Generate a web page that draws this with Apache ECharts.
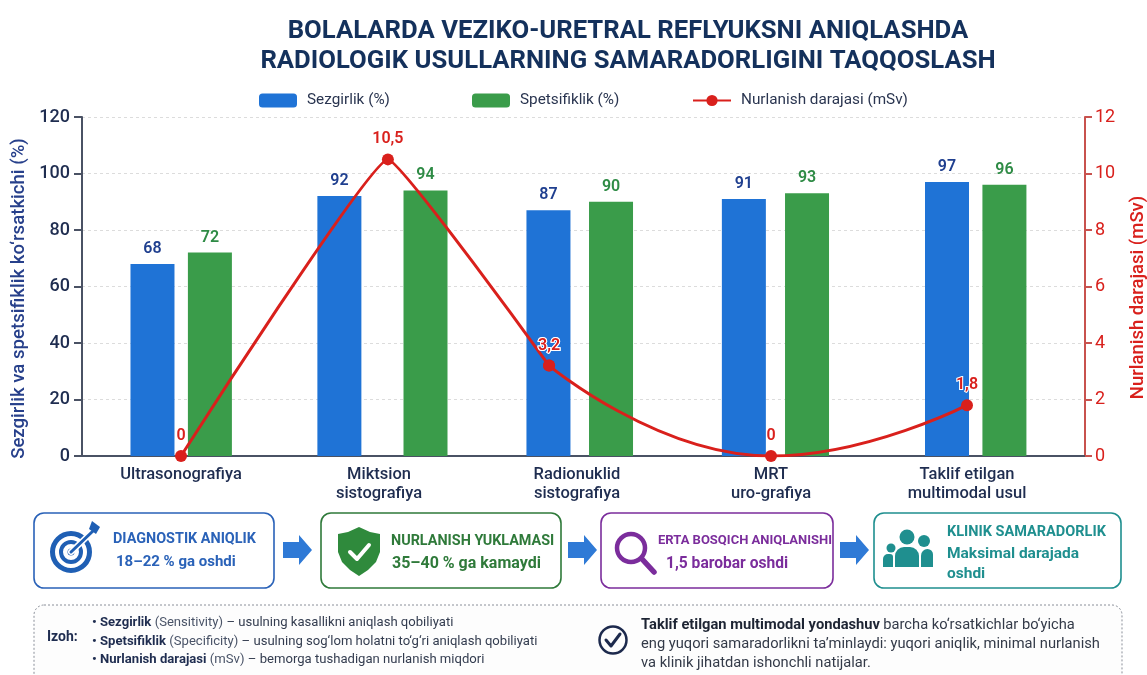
<!DOCTYPE html>
<html>
<head>
<meta charset="utf-8">
<title>VUR radiologik usullar</title>
<script src="https://cdn.jsdelivr.net/npm/echarts@6/dist/echarts.min.js"></script>
<style>
  html, body { margin: 0; padding: 0; background: #fff; overflow: hidden; }
  #chart { width: 1147px; height: 675px; }
</style>
</head>
<body>
<div id="chart"></div>
<script>
const categories = [
  "Ultrasonografiya",
  "Miktsion\nsistografiya",
  "Radionuklid\nsistografiya",
  "MRT\nuro-grafiya",
  "Taklif etilgan\nmultimodal usul",
];
const sensitivity = [68, 92, 87, 91, 97];
const specificity = [72, 94, 90, 93, 96];
const radiation = [0, 10.5, 3.2, 0, 1.8];

// the bars and line points are not evenly placed in the picture, so x is in category units
const sensitivitySlots = [-0.144, 0.8, 1.856, 2.843, 3.869];
const specificitySlots = [0.146, 1.235, 2.172, 3.162, 4.159];
const radiationSlots = [0, 1.045, 1.859, 2.98, 3.97];
const labelSlots = [0, 1, 2, 2.98, 3.97];

const FONT = "Roboto";
const NAVY = "#1f2d50";
const BLUE = "#1f73d6";
const GREEN = "#3a9c4a";
const RED = "#d9201c";

function pairs(xs, ys) {
  return xs.map(function (x, i) { return [x, ys[i]]; });
}

function txt(x, y, text, size, color, weight) {
  return {
    type: "text", x: x, y: y,
    style: { text: text, font: (weight || "normal") + " " + size + "px " + FONT, fill: color, verticalAlign: "middle" },
  };
}

function box(x, y, w, h, color) {
  return {
    type: "rect",
    shape: { x: x, y: y, width: w, height: h, r: 10 },
    style: { fill: "#fff", stroke: color, lineWidth: 1.6 },
  };
}

function arrow(x) {
  return poly([[x, 542], [x + 16, 542], [x + 16, 535], [x + 29, 550], [x + 16, 565], [x + 16, 558], [x, 558]], "#2f7ad6");
}

function circle(cx, cy, r, fill, stroke, lw) {
  return {
    type: "circle",
    shape: { cx: cx, cy: cy, r: r },
    style: { fill: fill || "none", stroke: stroke || "none", lineWidth: lw || 0 },
  };
}

function poly(points, fill, smooth) {
  return { type: "polygon", shape: { points: points, smooth: smooth || 0 }, style: { fill: fill } };
}

function stroke(points, color, lw) {
  return {
    type: "polyline",
    shape: { points: points },
    style: { fill: "none", stroke: color, lineWidth: lw, lineCap: "round", lineJoin: "round" },
  };
}

function roundBody(x, y, w, h, r, color) {
  return { type: "rect", shape: { x: x, y: y, width: w, height: h, r: r }, style: { fill: color } };
}

const noteRich = {
  b: { font: "bold 13.1px " + FONT, fill: NAVY },
  g: { font: "13.1px " + FONT, fill: "#4a5468" },
  r: { font: "13.1px " + FONT, fill: "#333c4f" },
};
const sumRich = {
  b: { font: "bold 14.7px " + FONT, fill: "#1d2433" },
  r: { font: "14.7px " + FONT, fill: "#333a48" },
};

function rich(x, y, text, styles) {
  return { type: "text", x: x, y: y, style: { text: text, rich: styles, verticalAlign: "middle" } };
}

const panels = [
  // note panel runs off the bottom edge of the picture
  {
    type: "rect",
    shape: { x: 34, y: 605, width: 1088, height: 90, r: 10 },
    style: { fill: "#fdfdfd", stroke: "#8a8f99", lineWidth: 1, lineDash: [2, 2] },
  },
  box(34, 513, 240, 75, "#2a62b8"),
  box(321, 513, 240, 75, "#2f7a3a"),
  box(601, 513, 232, 75, "#7b2d9c"),
  box(874, 513, 247, 75, "#1f8f8f"),
  arrow(283),
  arrow(568),
  arrow(840),

  // target icon
  circle(71, 552, 18.5, null, "#1f5fb4", 5),
  circle(71, 552, 10, null, "#1f5fb4", 4),
  circle(71, 552, 3.5, "#1f5fb4"),
  stroke([[71, 552], [93, 531]], "#fff", 6),
  stroke([[71, 552], [93, 531]], "#1f5fb4", 3),
  poly([[89, 529], [92, 521], [100, 527], [96, 534]], "#1f5fb4"),

  // shield icon
  poly([[359, 527], [370, 532], [380, 534], [380, 552], [376, 562], [368, 570], [359, 576], [350, 570], [342, 562], [338, 552], [338, 534], [348, 532]], "#2f8a3c"),
  stroke([[350, 552], [357, 559], [369, 545]], "#fff", 4),

  // magnifier icon
  circle(631, 548, 14, null, "#7b2d9c", 4.5),
  stroke([[642, 559], [654, 572]], "#7b2d9c", 5.5),

  // people icon
  circle(907, 537, 7.5, "#1f8f8f"),
  circle(924, 541, 6, "#1f8f8f"),
  circle(891, 548, 4.5, "#1f8f8f"),
  roundBody(895, 547, 24, 20, [9, 9, 0, 0], "#1f8f8f"),
  roundBody(921, 549, 12, 18, [7, 6, 0, 0], "#1f8f8f"),
  roundBody(883, 554, 10, 13, [5, 3, 0, 0], "#1f8f8f"),

  txt(113, 539, "DIAGNOSTIK ANIQLIK", 14.4, "#2a62b8", "bold"),
  txt(116, 562, "18–22 % ga oshdi", 15, "#2a62b8", "bold"),
  txt(391, 541, "NURLANISH YUKLAMASI", 14.4, "#2f7a3a", "bold"),
  txt(392, 564, "35–40 % ga kamaydi", 16, "#2f7a3a", "bold"),
  txt(658, 541, "ERTA BOSQICH ANIQLANISHI", 13, "#7b2d9c", "bold"),
  txt(666, 564, "1,5 barobar oshdi", 15.6, "#7b2d9c", "bold"),
  txt(947, 532, "KLINIK SAMARADORLIK", 14.5, "#1f8f8f", "bold"),
  txt(947, 554, "Maksimal darajada", 15.5, "#1f8f8f", "bold"),
  txt(947, 574, "oshdi", 15.5, "#1f8f8f", "bold"),

  txt(47, 637, "Izoh:", 14, NAVY, "bold"),
  rich(92, 623, "{b|• Sezgirlik} {g|(Sensitivity)} {r|– usulning kasallikni aniqlash qobiliyati}", noteRich),
  rich(92, 642, "{b|• Spetsifiklik} {g|(Specificity)} {r|– usulning sog‘lom holatni to‘g‘ri aniqlash qobiliyati}", noteRich),
  rich(92, 660, "{b|• Nurlanish darajasi} {g|(mSv)} {r|– bemorga tushadigan nurlanish miqdori}", noteRich),

  circle(613, 640, 13.5, null, "#1d2a4d", 2.5),
  stroke([[606, 640], [611, 646], [620, 634]], "#1d2a4d", 3),
  rich(641, 625, "{b|Taklif etilgan multimodal yondashuv} {r|barcha ko‘rsatkichlar bo‘yicha}", sumRich),
  rich(641, 644, "{r|eng yuqori samaradorlikni ta’minlaydi: yuqori aniqlik, minimal nurlanish}", sumRich),
  rich(641, 663, "{r|va klinik jihatdan ishonchli natijalar.}", sumRich),
];

function legendAt(left, name) {
  return {
    left: left, top: 93, padding: 0,
    data: [name],
    itemWidth: 38, itemHeight: 14, itemGap: 0,
    selectedMode: false,
    textStyle: { fontFamily: FONT, fontSize: 15.3, color: "#2a3550", padding: [0, 0, 0, 5] },
  };
}

function barSeries(name, xs, ys, color, labelColor) {
  return {
    name: name, type: "bar",
    data: pairs(xs, ys),
    barWidth: 44, barGap: "-100%",
    itemStyle: { color: color },
    label: {
      show: true, position: "top", distance: 7,
      fontFamily: FONT, fontSize: 16, fontWeight: 600, color: labelColor,
      formatter: function (p) { return p.value[1]; },
    },
  };
}

// the picture has a sharp peak but a soft dip, so the line is two runs with different smoothing
function doseSeries(from, to, smooth) {
  return {
    name: "Nurlanish darajasi (mSv)", type: "line",
    yAxisIndex: 1,
    data: pairs(radiationSlots, radiation).slice(from, to),
    smooth: smooth,
    symbol: "circle", symbolSize: 12,
    lineStyle: { color: RED, width: 3 },
    itemStyle: { color: RED },
    z: 5,
    label: {
      show: true, position: "top", distance: 6,
      fontFamily: FONT, fontSize: 16, fontWeight: 600, color: RED,
      textBorderColor: "#fff", textBorderWidth: 2,
      formatter: function (p) { return String(p.value[1]).replace(".", ","); },
    },
  };
}

const chart = echarts.init(document.getElementById("chart"), null, { renderer: "canvas" });
chart.setOption({
  animation: false,
  backgroundColor: "#fff",
  title: {
    text: "BOLALARDA VEZIKO-URETRAL REFLYUKSNI ANIQLASHDA\nRADIOLOGIK USULLARNING SAMARADORLIGINI TAQQOSLASH",
    left: 623, top: 12, textAlign: "center",
    textStyle: { fontFamily: FONT, fontSize: 25.7, fontWeight: "bold", color: "#14315c", lineHeight: 30 },
  },
  legend: [
    legendAt(259, "Sezgirlik (%)"),
    legendAt(472, "Spetsifiklik (%)"),
    legendAt(692, "Nurlanish darajasi (mSv)"),
  ],
  grid: { left: 82, right: 62, top: 117, bottom: 219, outerBoundsMode: "none" },
  xAxis: {
    type: "value", min: -0.5, max: 4.566,
    splitLine: { show: false },
    axisTick: { show: false },
    axisLine: { show: true, onZero: false, lineStyle: { color: "#4a5264", width: 2 } },
    axisLabel: {
      customValues: labelSlots,
      margin: 9,
      fontFamily: FONT, fontSize: 16.5, fontWeight: 500, color: NAVY, lineHeight: 19,
      formatter: function (v) { return categories[Math.round(v)]; },
    },
  },
  yAxis: [
    {
      type: "value", min: 0, max: 120, interval: 20,
      name: "Sezgirlik va spetsifiklik ko‘rsatkichi (%)",
      nameLocation: "middle", nameGap: 52, nameRotate: 90,
      nameTextStyle: { fontFamily: FONT, fontSize: 18.6, fontWeight: 500, color: "#27408b", padding: [0, 24, 0, 0] },
      axisLine: { show: true, onZero: false, lineStyle: { color: "#4a5264", width: 2 } },
      axisTick: { show: true, length: 8, lineStyle: { color: "#4a5264", width: 2 } },
      axisLabel: { margin: 12, fontFamily: FONT, fontSize: 18, fontWeight: 500, color: NAVY },
      splitLine: { show: true, lineStyle: { color: "#dcdcdc", type: [3, 3], width: 1 } },
    },
    {
      type: "value", min: 0, max: 12, interval: 2,
      position: "right",
      name: "Nurlanish darajasi (mSv)",
      nameLocation: "middle", nameGap: 44, nameRotate: 90,
      nameTextStyle: { fontFamily: FONT, fontSize: 18.5, fontWeight: 500, color: RED, padding: [0, 22, 0, 0] },
      axisLine: { show: true, onZero: false, lineStyle: { color: "#c8524e", width: 2 } },
      axisTick: { show: true, length: 7, lineStyle: { color: "#c8524e", width: 2 } },
      axisLabel: { margin: 10, fontFamily: FONT, fontSize: 18, color: RED },
      splitLine: { show: false },
    },
  ],
  series: [
    barSeries("Sezgirlik (%)", sensitivitySlots, sensitivity, BLUE, "#1f3f8f"),
    barSeries("Spetsifiklik (%)", specificitySlots, specificity, GREEN, "#2e8b45"),
    doseSeries(0, 3, 0.08),
    doseSeries(2, 5, 0.5),
  ],
  graphic: { elements: panels },
});
</script>
</body>
</html>
